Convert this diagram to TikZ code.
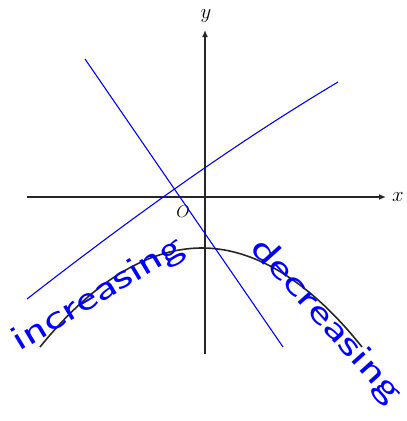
\documentclass[tikz,border=0pt]{standalone}
\usetikzlibrary{arrows.meta}
\begin{document}
\begin{tikzpicture}[x=1pt,y=-1pt,
  axis/.style={line width=1.6pt,draw=black!85,-{Latex[length=7pt,width=6pt]}},
  curve/.style={line width=1.6pt,draw=black!85},
  blueline/.style={line width=1.1pt,draw=blue},
  hand/.style={text=blue,font=\sffamily\fontsize{36}{36}\selectfont,inner sep=0pt,anchor=base},
  lbl/.style={font=\fontsize{20}{20}\selectfont,inner sep=0pt}]
\useasboundingbox (0,0) rectangle (407,421);
% axes
\coordinate (xl) at (27,197);
\coordinate (xr) at (386,197);
\coordinate (yb) at (205,354);
\coordinate (yt) at (205,30);
\draw[axis] (xl) -- (xr);
\draw[axis] (yb) -- (yt);
\node[lbl] (ylab) at (206,16) {$y$};
\node[lbl] (xlab) at (398,197) {$x$};
\node[lbl,font=\fontsize{16}{16}\selectfont] (olab) at (183,212) {$O$};
% parabola
\coordinate (pl) at (40,347);
\coordinate (pv) at (202,248);
\coordinate (pr) at (362,347);
\draw[curve] (pl) parabola bend (pv) (pr);
% blue lines
\coordinate (a1) at (85,59);
\coordinate (a2) at (283,347);
\draw[blueline] (a1) -- (a2);
\coordinate (b1) at (27,299);
\coordinate (b2) at (338,82);
\draw[blueline] (b1) .. controls (131,218) and (234,144) .. (b2);
% handwritten labels
\node[hand,rotate=31,xscale=1.4] (inc) at (103,302) {increasing};
\node[hand,rotate=-48,xscale=1.44] (dec) at (320,327) {decreasing};
\end{tikzpicture}
\end{document}
